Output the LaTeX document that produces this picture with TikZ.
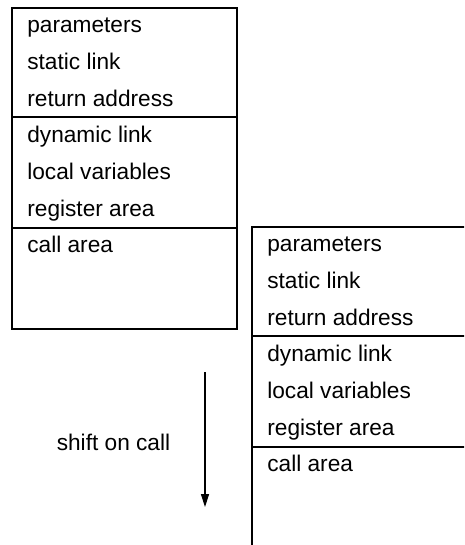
\documentclass[tikz,border=0pt]{standalone}
\usepackage{fontspec}
\setmainfont{Liberation Sans}
\usetikzlibrary{
  positioning,
  arrows.meta
}
\tikzstyle{slot}=[anchor=mid west, inner sep=0pt, font=\fontsize{12.9}{15}\selectfont]
\tikzstyle{frameline}=[line width=0.6pt]
\tikzstyle{shiftarrow}=[-{Triangle[length=7.4pt,width=4.6pt]}, line width=0.6pt]

\begin{document}
\begin{tikzpicture}[x=0.02cm, y=-0.02cm]
    \def\rowh{36.7};
    \def\xl{12};
    \def\xr{237};

    % picture size
    \clip (0,0) rectangle (464,545);

    % two activation records, the second shifted on call
    \foreach \nm/\fx/\fy in {caller/0/0, callee/240/219} {
      \begin{scope}[shift={(\fx,\fy)}]
        % frame borders
        \draw[frameline] (\xl,8) rectangle (\xr,329);
        \draw[frameline] (\xl,117) -- (\xr,117);
        \draw[frameline] (\xl,228) -- (\xr,228);
        % slots
        \foreach \txt [count=\i from 0] in {parameters, static link, return address, dynamic link, local variables, register area, call area}
          \node[slot] (\nm-\i) at (27, {28+\i*\rowh}) {\txt};
      \end{scope}
    }

    % shift direction
    \coordinate (shift-top) at (205,372);
    \coordinate (shift-end) at (205,507);
    \draw[shiftarrow] (shift-top) -- (shift-end);
    \node[slot, anchor=mid] (shift-label) at (113.5,446) {shift on call};
\end{tikzpicture}
\end{document}
